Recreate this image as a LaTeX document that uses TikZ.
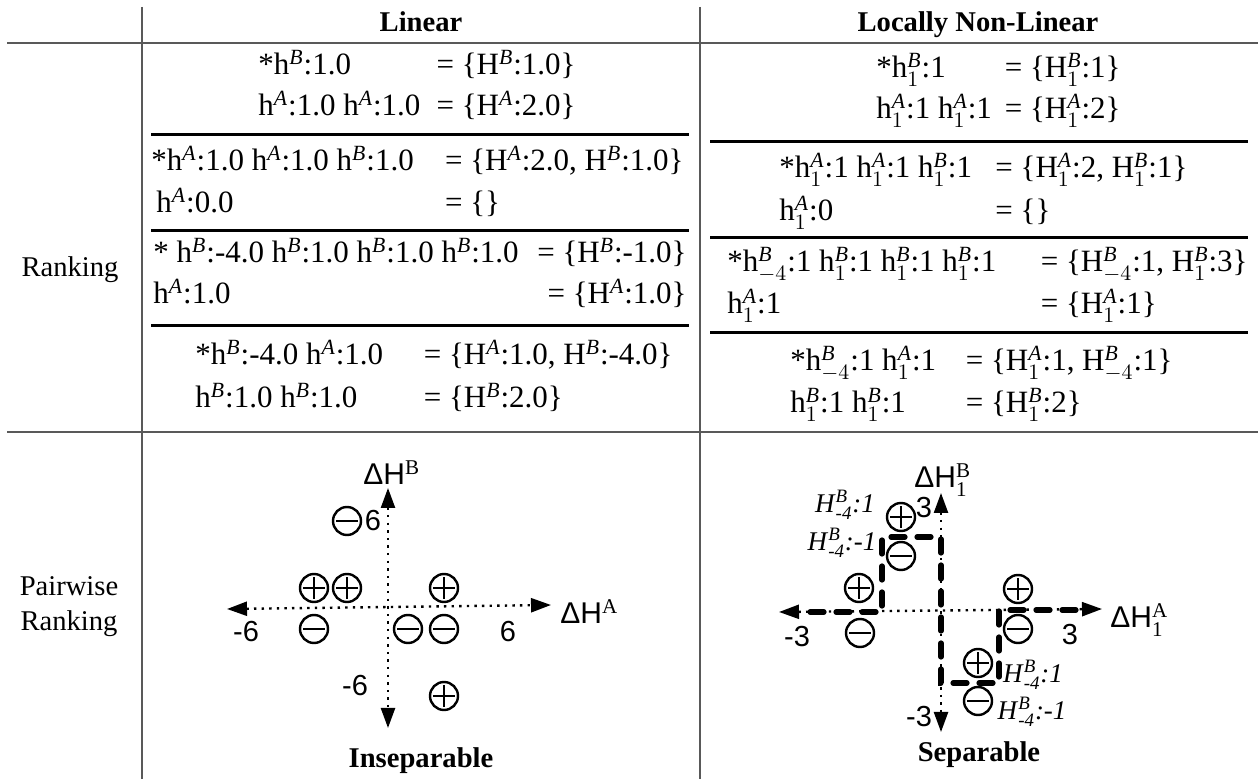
\documentclass[tikz,border=0pt]{standalone}
\usepackage{amsmath}
\usepackage{fontspec}
\setmainfont{Liberation Serif}
\newfontfamily\sansf{Liberation Sans}
\usetikzlibrary{arrows.meta}
\newcommand{\myhsp}[1]{\ensuremath{^{\mathit{#1}}}}
\newcommand{\myhsb}[2]{\ensuremath{^{\mathit{#1}}_{#2}}}
\newcommand{\ilab}[1]{\textit{H}\ensuremath{^{\text{\itshape B}}_{\text{\itshape -4}}}\textit{:#1}}
\tikzset{
  thinrule/.style={draw=black!65, line width=1pt},
  thickrule/.style={draw=black, line width=1.5pt},
  cell/.style={inner sep=0pt, font=\fontsize{15.5}{18}\selectfont},
  side/.style={inner sep=0pt, font=\fontsize{14.3}{17}\selectfont},
  headtxt/.style={inner sep=0pt, font=\fontsize{14.3}{17}\selectfont\bfseries},
  axisline/.style={line width=1.2pt, dash pattern=on 1.2pt off 2.6pt,
     {Triangle[length=10pt,width=7pt]}-{Triangle[length=10pt,width=7pt]}},
  num/.style={inner sep=0pt, font=\sansf\fontsize{14.5}{16}\selectfont},
  axlab/.style={inner sep=0pt, font=\fontsize{15}{17}\selectfont},
  pnode/.style={circle, draw, line width=1.2pt, minimum size=14pt, inner sep=0pt,
     path picture={\draw[line width=1.2pt] ([xshift=-5.5pt]path picture bounding box.center) -- ([xshift=5.5pt]path picture bounding box.center);
                   \draw[line width=1.2pt] ([yshift=-5.5pt]path picture bounding box.center) -- ([yshift=5.5pt]path picture bounding box.center);}},
  mnode/.style={circle, draw, line width=1.2pt, minimum size=14pt, inner sep=0pt,
     path picture={\draw[line width=1.2pt] ([xshift=-5.5pt]path picture bounding box.center) -- ([xshift=5.5pt]path picture bounding box.center);}},
  stair/.style={line width=2.6pt, dash pattern=on 7pt off 6pt, line cap=round},
  ilabel/.style={inner sep=0pt, font=\fontsize{13.5}{15}\selectfont},
}
\begin{document}
\begin{tikzpicture}[x=0.5pt,y=-0.5pt]
\fill[white] (0,0) rectangle (1258,779);
\useasboundingbox (0,0) rectangle (1258,779);
% grid
\draw[thinrule] (7,43) -- (1258,43);
\draw[thinrule] (7,432) -- (1258,432);
\draw[thinrule] (142,7) -- (142,779);
\draw[thinrule] (700,7) -- (700,779);
\draw[thickrule] (151,135) -- (689,135);
\draw[thickrule] (151,231) -- (689,231);
\draw[thickrule] (151,326) -- (689,326);
\draw[thickrule] (710,142) -- (1248,142);
\draw[thickrule] (710,238) -- (1248,238);
\draw[thickrule] (710,333) -- (1248,333);
% headers
\node[headtxt, anchor=base] (hlin) at (421,32) {Linear};
\node[headtxt, anchor=base] (hnl) at (978,32) {Locally Non-Linear};
\node[side] (rk) at (70,270) {Ranking};
\node[side, align=center, font=\fontsize{14.3}{17.5}\selectfont] (prk) at (69,607) {Pairwise\\Ranking};
% linear cells
\node[cell, anchor=base west] (l1a) at (258,75) {*h\myhsp{B}:1.0};
\node[cell, anchor=base east] (l1b) at (576,75) {= \{H\myhsp{B}:1.0\}};
\node[cell, anchor=base west] (l2a) at (258,116) {h\myhsp{A}:1.0 h\myhsp{A}:1.0};
\node[cell, anchor=base east] (l2b) at (576,116) {= \{H\myhsp{A}:2.0\}};
\node[cell, anchor=base west] (l3a) at (151,171) {*h\myhsp{A}:1.0 h\myhsp{A}:1.0 h\myhsp{B}:1.0};
\node[cell, anchor=base east] (l3b) at (684,171) {= \{H\myhsp{A}:2.0, H\myhsp{B}:1.0\}};
\node[cell, anchor=base west] (l4a) at (156,213) {h\myhsp{A}:0.0};
\node[cell, anchor=base west] (l4b) at (l3b.base west |- 0,213) {= \{\}};
\node[cell, anchor=base west] (l5a) at (153,263) {* h\myhsp{B}:-4.0 h\myhsp{B}:1.0 h\myhsp{B}:1.0 h\myhsp{B}:1.0};
\node[cell, anchor=base east] (l5b) at (687,263) {= \{H\myhsp{B}:-1.0\}};
\node[cell, anchor=base west] (l6a) at (153,304) {h\myhsp{A}:1.0};
\node[cell, anchor=base east] (l6b) at (687,304) {= \{H\myhsp{A}:1.0\}};
\node[cell, anchor=base west] (l7a) at (195,365) {*h\myhsp{B}:-4.0 h\myhsp{A}:1.0};
\node[cell, anchor=base east] (l7b) at (673,365) {= \{H\myhsp{A}:1.0, H\myhsp{B}:-4.0\}};
\node[cell, anchor=base west] (l8a) at (195,408) {h\myhsp{B}:1.0 h\myhsp{B}:1.0};
\node[cell, anchor=base west] (l8b) at (l7b.base west |- 0,408) {= \{H\myhsp{B}:2.0\}};
% non-linear cells
\node[cell, anchor=base west] (r1a) at (876,78) {*h\myhsb{B}{1}:1};
\node[cell, anchor=base east] (r1b) at (1121,78) {= \{H\myhsb{B}{1}:1\}};
\node[cell, anchor=base west] (r2a) at (876,119) {h\myhsb{A}{1}:1 h\myhsb{A}{1}:1};
\node[cell, anchor=base east] (r2b) at (1121,119) {= \{H\myhsb{A}{1}:2\}};
\node[cell, anchor=base west] (r3a) at (779,178) {*h\myhsb{A}{1}:1 h\myhsb{A}{1}:1 h\myhsb{B}{1}:1};
\node[cell, anchor=base west] (r3b) at (995,178) {= \{H\myhsb{A}{1}:2, H\myhsb{B}{1}:1\}};
\node[cell, anchor=base west] (r4a) at (779,221) {h\myhsb{A}{1}:0};
\node[cell, anchor=base west] (r4b) at (r3b.base west |- 0,221) {= \{\}};
\node[cell, anchor=base west] (r5a) at (727,272) {*h\myhsb{B}{-4}:1 h\myhsb{B}{1}:1 h\myhsb{B}{1}:1 h\myhsb{B}{1}:1};
\node[cell, anchor=base east] (r5b) at (1248,272) {= \{H\myhsb{B}{-4}:1, H\myhsb{B}{1}:3\}};
\node[cell, anchor=base west] (r6a) at (727,314) {h\myhsb{A}{1}:1};
\node[cell, anchor=base west] (r6b) at (r5b.base west |- 0,314) {= \{H\myhsb{A}{1}:1\}};
\node[cell, anchor=base west] (r7a) at (790,371) {*h\myhsb{B}{-4}:1 h\myhsb{A}{1}:1};
\node[cell, anchor=base east] (r7b) at (1173,371) {= \{H\myhsb{A}{1}:1, H\myhsb{B}{-4}:1\}};
\node[cell, anchor=base west] (r8a) at (790,413) {h\myhsb{B}{1}:1 h\myhsb{B}{1}:1};
\node[cell, anchor=base west] (r8b) at (r7b.base west |- 0,413) {= \{H\myhsb{B}{1}:2\}};
% ---------- left plot ----------
\coordinate (lxl) at (227,609);
\coordinate (lxr) at (551,605);
\coordinate (lyt) at (388,488);
\coordinate (lyb) at (388,728);
\draw[axisline] (lxl) -- (lxr);
\draw[axisline] (lyt) -- (lyb);
\node[axlab, anchor=base west] (lhb) at (363,485) {{\sansf ΔH}\ensuremath{^{\mathrm{B}}}};
\node[axlab, anchor=base west] (lha) at (560,624) {{\sansf ΔH}\ensuremath{^{\mathrm{A}}}};
\node[mnode] (lm1) at (347,521) {};
\node[num] (ln1) at (373,521) {6};
\node[pnode] (lp1) at (314,588) {};
\node[pnode] (lp2) at (347,588) {};
\node[pnode] (lp3) at (444,588) {};
\node[num] (ln2) at (246,632) {-6};
\node[mnode] (lm2) at (314,629) {};
\node[mnode] (lm3) at (408,629) {};
\node[mnode] (lm4) at (444,629) {};
\node[num] (ln3) at (508,632) {6};
\node[num] (ln4) at (355,686) {-6};
\node[pnode] (lp4) at (444,696) {};
\node[headtxt] (insep) at (421,761) {Inseparable};
% ---------- right plot ----------
\coordinate (rxl) at (779,612);
\coordinate (rxr) at (1102,609);
\coordinate (ryt) at (941,493);
\coordinate (ryb) at (941,732);
\draw[axisline] (rxl) -- (rxr);
\draw[axisline] (ryt) -- (ryb);
\draw[stair] (810,612) -- (882,612) -- (882,537) -- (941,537) -- (941,683) -- (999,683) -- (999,610) -- (1077,610);
\node[axlab, anchor=base west] (rhb) at (914,488) {{\sansf ΔH}\ensuremath{^{\mathrm{B}}_{\mathrm{1}}}};
\node[axlab, anchor=base west] (rha) at (1110,628) {{\sansf ΔH}\ensuremath{^{\mathrm{A}}_{\mathrm{1}}}};
\node[num] (rn1) at (924,508) {3};
\node[num] (rn2) at (797,637) {-3};
\node[num] (rn3) at (1070,635) {3};
\node[num] (rn4) at (919,717) {-3};
\node[pnode] (rp1) at (901,517) {};
\node[mnode] (rm1) at (901,556) {};
\node[pnode] (rp2) at (859,588) {};
\node[mnode] (rm2) at (860,633) {};
\node[pnode] (rp3) at (1018,589) {};
\node[mnode] (rm3) at (1018,629) {};
\node[pnode] (rp4) at (978,663) {};
\node[mnode] (rm4) at (978,701) {};
\node[ilabel] (il1) at (845,505) {\ilab{1}};
\node[ilabel] (il2) at (842,543) {\ilab{-1}};
\node[ilabel] (il3) at (1033,675) {\ilab{1}};
\node[ilabel] (il4) at (1032,712) {\ilab{-1}};
\node[headtxt] (sep) at (979,755) {Separable};
\end{tikzpicture}
\end{document}
